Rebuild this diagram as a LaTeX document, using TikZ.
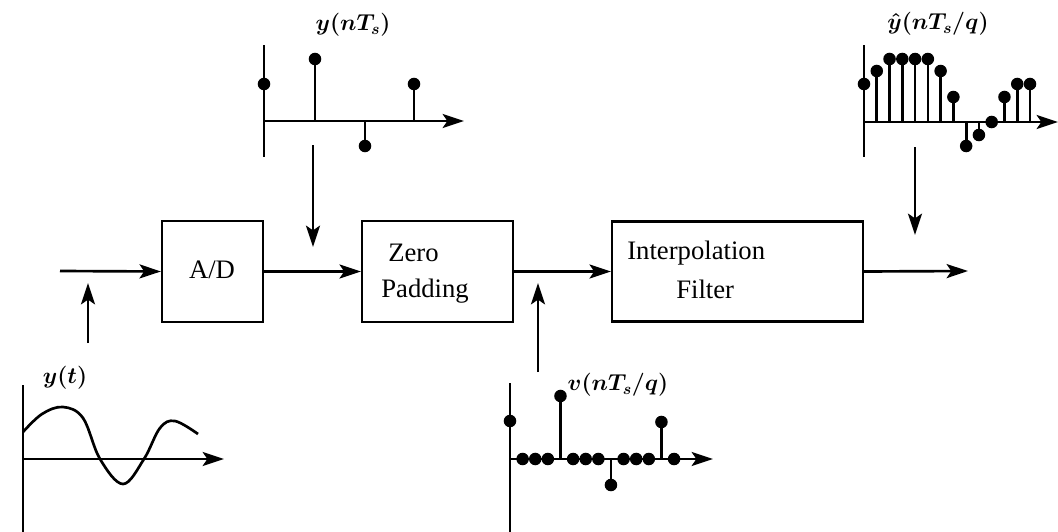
\documentclass[tikz,border=0pt]{standalone}
\usepackage{fontspec}
\setmainfont{Liberation Serif}
\usepackage{amsmath}
\usetikzlibrary{arrows.meta}
\begin{document}
\begin{tikzpicture}[x=0.75pt,y=-0.75pt,
  line width=2pt,
  arr/.style={-{Stealth[length=16pt,width=10.5pt,inset=3.5pt]}},
  blk/.style={draw,line width=1.7pt,inner sep=0pt},
  txt/.style={font=\fontsize{20}{22}\selectfont,inner sep=0pt},
  lab/.style={font=\fontsize{17}{19}\selectfont\boldmath,inner sep=0pt},
]
\useasboundingbox (0,0) rectangle (1058,532);
% blocks
\node[blk,minimum width=75.75pt,minimum height=75.75pt] (ad) at (212.5,271.5) {};
\node[txt] (adt) at (212,270) {A/D};
\node[blk,minimum width=113.25pt,minimum height=75.75pt] (zp) at (437.5,271.5) {};
\node[txt,anchor=west] (zpt1) at (387,253) {Zero};
\node[txt,anchor=west] (zpt2) at (380,291) {Padding};
\node[blk,minimum width=188.25pt,minimum height=75pt] (ip) at (737.5,271.5) {};
\node[txt,anchor=west] (ipt1) at (626,253) {Interpolation};
\node[txt,anchor=west] (ipt2) at (675,289) {Filter};
% connectors on main line
\coordinate (in) at (60,271);
\coordinate (out) at (968,271);
\draw[arr] (in) -- (ad.west);
\draw[arr] (ad.east) -- (zp.west);
\draw[arr] (zp.east) -- (ip.west);
\draw[arr] (ip.east) -- (out);
% vertical arrows
\coordinate (a1s) at (88,343); \coordinate (a1e) at (88,283);
\coordinate (a2s) at (313,145); \coordinate (a2e) at (313,247);
\coordinate (a3s) at (538,372); \coordinate (a3e) at (538,283);
\coordinate (a4s) at (915,147); \coordinate (a4e) at (915,235);
\draw[arr] (a1s) -- (a1e);
\draw[arr] (a2s) -- (a2e);
\draw[arr] (a3s) -- (a3e);
\draw[arr] (a4s) -- (a4e);
% ---------- top-left plot y(nTs)
\draw (264,45) -- (264,157);
\draw[arr] (264,121) -- (464,121);
\foreach \x/\y in {264/84,315/59,365/146,414/84}{
  \draw (\x,121) -- (\x,\y);
  \fill (\x,\y) circle[radius=4.7pt];
}
\node[lab] (l1) at (353,25) {$y(nT_s)$};
% ---------- top-right plot
\draw (864,45) -- (864,157);
\draw[arr] (864,122) -- (1058,122);
\foreach \k/\y in {0/84,1/71,2/59,3/59,4/59,5/59,6/71,7/97,8/146,9/135,10/122,11/97,12/84,13/84}{
  \pgfmathsetmacro{\xx}{864+12.77*\k}
  \draw (\xx,122) -- (\xx,\y);
  \fill (\xx,\y) circle[radius=4.7pt];
}
\node[lab] (l2) at (938,24) {$\hat{y}(nT_s/q)$};
% ---------- bottom-left plot y(t)
\draw (23,385) -- (23,532);
\draw[arr] (23,459) -- (224,459);
\draw plot[smooth,tension=0.6] coordinates
  {(23,432) (42,414) (63,407) (83,418) (100,459) (123,484) (144,459) (160,428) (175,421) (198,434)};
\node[lab] (l3) at (65,378) {$y(t)$};
% ---------- bottom-middle plot v(nTs/q)
\draw (510,383) -- (510,532);
\draw[arr] (510,459) -- (713,459);
\foreach \k/\y in {0/421,4/396,8/485,12/422}{
  \pgfmathsetmacro{\xx}{510+12.62*\k}
  \draw (\xx,459) -- (\xx,\y);
  \fill (\xx,\y) circle[radius=4.7pt];
}
\foreach \k in {1,2,3,5,6,7,9,10,11,13}{
  \pgfmathsetmacro{\xx}{510+12.62*\k}
  \fill (\xx,459) circle[radius=4.7pt];
}
\node[lab] (l4) at (618,385) {$v(nT_s/q)$};
\end{tikzpicture}
\end{document}
